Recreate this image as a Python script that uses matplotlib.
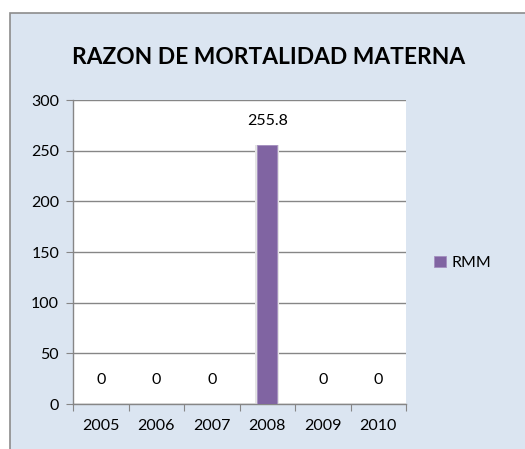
import matplotlib.pyplot as plt
from matplotlib.patches import Rectangle

# data
years = ["2005", "2006", "2007", "2008", "2009", "2010"]
rmm = [0, 0, 0, 255.8, 0, 0]
value_labels = ["0", "0", "0", "255.8", "0", "0"]

plt.rcParams['font.family'] = ['Lato', 'DejaVu Sans']

fig = plt.figure(figsize=(5.25, 4.49), dpi=100)
fig.patch.set_facecolor('white')

# chart frame (light blue, clipped at right/bottom)
frame = Rectangle((10 / 525, -0.05), 1.0, 1 - 13 / 449 + 0.05, transform=fig.transFigure,
                  facecolor='#DBE5F1', edgecolor='#8C8C8C', linewidth=1.2, zorder=-5)
fig.patches.append(frame)

fig.text(269 / 525, 1 - 57 / 449, "RAZON DE MORTALIDAD MATERNA", ha='center', va='center',
         fontsize=16.4, fontweight='bold', color='black')

ax = fig.add_axes([73 / 525, 1 - 404 / 449, 333 / 525, 304 / 449])
ax.set_facecolor('white')

x = list(range(len(years)))
# soft shadow behind the bar
ax.bar(x, rmm, width=0.44, color='#E4E4E4', zorder=2)
bars = ax.bar(x, rmm, width=0.36, color='#8064A2', edgecolor='#A48FC0', linewidth=0.6,
              zorder=3, label='RMM')

for xi, v, lab in zip(x, rmm, value_labels):
    ax.text(xi, v + 17, lab, ha='center', va='bottom', fontsize=11.5, color='black')

ax.set_xlim(-0.5, len(years) - 0.5)
ax.set_ylim(0, 300)
ax.set_yticks(range(0, 301, 50))
ax.yaxis.grid(True, color='#868686', linewidth=1.0)
ax.set_axisbelow(True)

ax.set_xticks([i - 0.5 for i in range(len(years) + 1)], minor=False)
ax.set_xticklabels([])
ax.set_xticks(x, minor=True)
ax.set_xticklabels(years, minor=True, fontsize=11.5)
ax.tick_params(axis='x', which='major', length=5, color='#868686', direction='out')
ax.tick_params(axis='x', which='minor', length=0, pad=11)
ax.tick_params(axis='y', length=5, color='#868686', labelsize=11.5, pad=5)

for s in ['top', 'right']:
    ax.spines[s].set_visible(False)
for s in ['left', 'bottom']:
    ax.spines[s].set_color('#868686')
    ax.spines[s].set_linewidth(1.0)

fig.legend(handles=[bars], labels=['RMM'], loc='center left',
           bbox_to_anchor=(420 / 525, 1 - 263 / 449), frameon=False, fontsize=11.5,
           handlelength=0.7, handleheight=0.7, handletextpad=0.4)

fig.savefig('out.png', dpi=100)
